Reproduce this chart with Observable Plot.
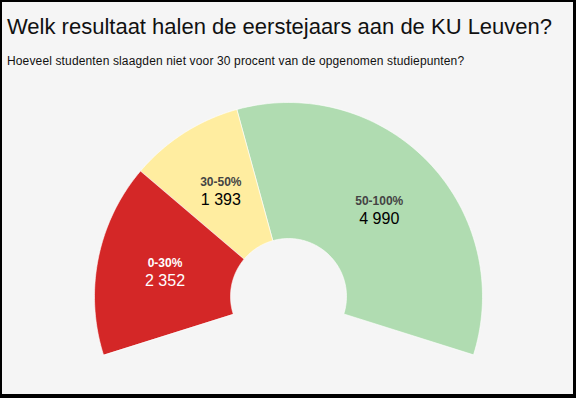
<!DOCTYPE html>
<html>
<head>
<meta charset="utf-8">
<script src="https://cdn.jsdelivr.net/npm/d3@7"></script>
<script src="https://cdn.jsdelivr.net/npm/@observablehq/plot@0.6"></script>
<style>
  body { margin: 0; background: #fff; }
  #frame {
    width: 576px; height: 398px; box-sizing: border-box;
    border-style: solid; border-color: #000;
    border-width: 2px 3px 4px 2px;
    background: #f5f5f5;
    font-family: Arial, "Liberation Sans", sans-serif;
    overflow: hidden;
  }
  #title { margin: 14px 0 0 5px; font-size: 22px; line-height: 22px; color: #111; white-space: nowrap; }
  #subtitle { margin: 17px 0 0 5px; font-size: 12px; line-height: 12px; letter-spacing: 0.14px; color: #111; white-space: nowrap; }
  #chart { margin-top: 15px; }
  #chart svg { display: block; }
</style>
</head>
<body>
<div id="frame">
  <div id="title">Welk resultaat halen de eerstejaars aan de KU Leuven?</div>
  <div id="subtitle">Hoeveel studenten slaagden niet voor 30 procent van de opgenomen studiepunten?</div>
  <div id="chart"></div>
</div>
<script>
// ---- data ----
const categories = ["0-30%", "30-50%", "50-100%"];
const values = [2352, 1393, 4990];

// ---- styles / geometry ----
const colors = ["#d42727", "#ffeda0", "#b0dcb1"];
const W = 571, H = 312;
const cx = 286, cy = 214;        // centre in svg pixels
const R = 194, r0 = 58;          // outer / inner radius
const spanDeg = 215;

const fmt = d3.formatLocale({decimal: ",", thousands: " ", grouping: [3], currency: ["", "€"]}).format(",d");

const total = d3.sum(values);
const span = spanDeg * Math.PI / 180;
const start = -span / 2;
let acc = 0;
const slices = categories.map((c, i) => {
  const a0 = start + span * acc / total;
  acc += values[i];
  const a1 = start + span * acc / total;
  return {c, v: values[i], a0, a1, color: colors[i]};
});

// arc outlines built from slice angles
const pts = [];
const steps = 80;
for (const s of slices) {
  for (let k = 0; k <= steps; k++) {
    const a = s.a0 + (s.a1 - s.a0) * k / steps;
    pts.push({c: s.c, x: R * Math.sin(a), y: R * Math.cos(a)});
  }
  for (let k = steps; k >= 0; k--) {
    const a = s.a0 + (s.a1 - s.a0) * k / steps;
    pts.push({c: s.c, x: r0 * Math.sin(a), y: r0 * Math.cos(a)});
  }
}

const rc = (R + r0) / 2;
const labels = slices.map(s => {
  const m = (s.a0 + s.a1) / 2;
  const dark = d3.hcl(s.color).l < 60;
  return {c: s.c, v: s.v, x: rc * Math.sin(m), y: rc * Math.cos(m),
          head: dark ? "#fff" : "#444", num: dark ? "#fff" : "#000"};
});

const chart = Plot.plot({
  width: W, height: H, margin: 0,
  style: {background: "transparent", fontFamily: "Arial, 'Liberation Sans', sans-serif"},
  x: {domain: [-cx, W - cx], axis: null},
  y: {domain: [-(H - cy), cy], axis: null},
  color: {domain: categories, range: colors},
  marks: [
    Plot.line(pts, {x: "x", y: "y", z: "c", fill: "c", stroke: "#ffffff", strokeWidth: 0.6, curve: "linear-closed"}),
    Plot.text(labels, {x: "x", y: "y", text: "c", fill: d => d.head, fontSize: 12, fontWeight: "bold", dy: -8}),
    Plot.text(labels, {x: "x", y: "y", text: d => fmt(d.v), fill: d => d.num, fontSize: 16, dy: 9.5})
  ]
});
document.getElementById("chart").appendChild(chart);
</script>
</body>
</html>
